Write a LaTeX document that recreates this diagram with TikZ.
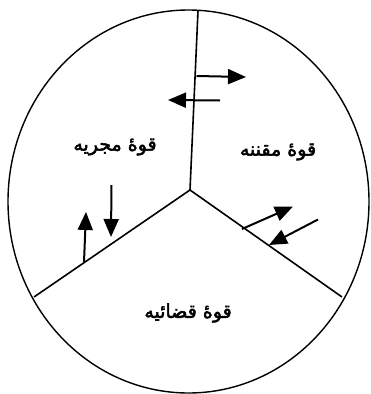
\documentclass[tikz,border=0pt]{standalone}
\usepackage{fontspec}
\newfontfamily\arabicfont[Script=Arabic,FakeBold=2.5]{DejaVu Sans}
\TeXXeTstate=1
\usetikzlibrary{arrows.meta}
\begin{document}
\begin{tikzpicture}[x=1pt,y=-1pt,
  divider/.style={line width=1.6pt},
  force/.style={line width=2pt,-{Triangle[length=18pt,width=15pt]}},
  lbl/.style={font=\arabicfont\fontsize{19}{23}\selectfont, inner sep=0pt}]
\useasboundingbox (0,0) rectangle (370,394);
\draw[line width=1.4pt] (188.5,201.5) ellipse [x radius=180.5, y radius=191.5];
\coordinate (c) at (190,190);
\coordinate (top) at (198,11);
\coordinate (bl) at (34,297);
\coordinate (br) at (342,297);
\draw[divider] (c) -- (top);
\draw[divider] (c) -- (bl);
\draw[divider] (c) -- (br);
% top arrows
\coordinate (a1s) at (196.5,76); \coordinate (a1e) at (246,77);
\coordinate (a2s) at (220,100.5); \coordinate (a2e) at (168,100);
\draw[force] (a1s) -- (a1e);
\draw[force] (a2s) -- (a2e);
% left arrows
\coordinate (b1s) at (84,262); \coordinate (b1e) at (86,212);
\coordinate (b2s) at (111.5,185); \coordinate (b2e) at (111,237);
\draw[force] (b1s) -- (b1e);
\draw[force] (b2s) -- (b2e);
% right arrows
\coordinate (r1s) at (242,229); \coordinate (r1e) at (293,206.5);
\coordinate (r2s) at (318,219.5); \coordinate (r2e) at (269,245);
\draw[force] (r1s) -- (r1e);
\draw[force] (r2s) -- (r2e);
% labels
\node[lbl] (exec) at (115,147) {\beginR قوهٔ مجریه\endR};
\node[lbl] (legis) at (278,152) {\beginR قوهٔ مقننه\endR};
\node[lbl] (jud) at (188,313) {\beginR قوهٔ قضائیه\endR};
\end{tikzpicture}
\end{document}
